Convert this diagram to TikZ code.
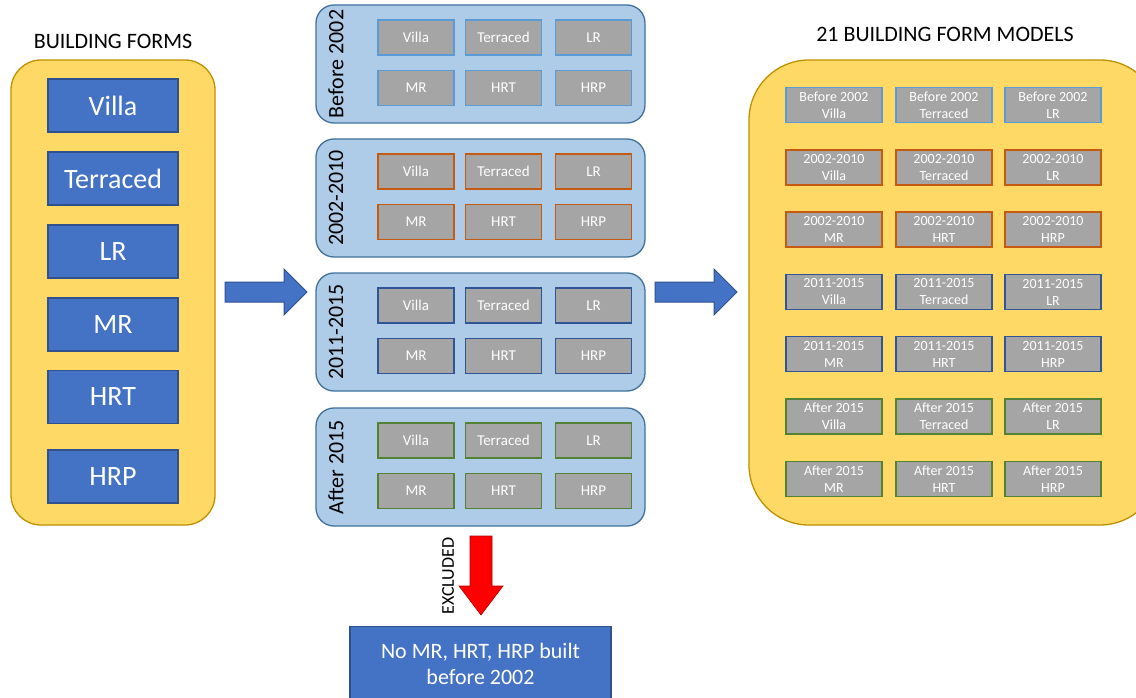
\documentclass[tikz,border=0pt]{standalone}
\usepackage{fontspec}
\setmainfont{Carlito}
\definecolor{blueA}{HTML}{4472C4}
\definecolor{blueD}{HTML}{2F528F}
\definecolor{yelF}{HTML}{FFD966}
\definecolor{yelD}{HTML}{BF9000}
\definecolor{panF}{HTML}{AECBE8}
\definecolor{panD}{HTML}{41719C}
\definecolor{grayF}{HTML}{A5A5A5}
\definecolor{cLB}{HTML}{5B9BD5}
\definecolor{cOR}{HTML}{C55A11}
\definecolor{cDB}{HTML}{2F5597}
\definecolor{cGR}{HTML}{548235}
\tikzset{
  bluebox/.style={draw=blueD, fill=blueA, line width=1.2pt, text=white, inner sep=0, minimum width=130, minimum height=53, font=\fontsize{28}{30}\selectfont},
  yelpanel/.style={draw=yelD, fill=yelF, line width=1.3pt},
  period/.style={draw=panD, fill=panF, line width=1.3pt, rounded corners=18pt},
  gbox/.style={fill=grayF, line width=1.6pt, text=white, inner sep=0, minimum width=76, minimum height=35, font=\fontsize{15}{16}\selectfont},
  rbox/.style={fill=grayF, line width=1.6pt, text=white, inner sep=0, minimum width=96, minimum height=35, align=center, font=\fontsize{14}{17}\selectfont},
  title/.style={font=\fontsize{22}{24}\selectfont, text=black},
  vlabel/.style={font=\fontsize{22}{24}\selectfont, rotate=90, text=black},
}
\begin{document}
\begin{tikzpicture}[x=1pt,y=-1pt]
\useasboundingbox (0,0) rectangle (1136,698);
% left panel
\draw[yelpanel, rounded corners=30pt] (11,60) rectangle (215,525);
\node[title] (lt) at (113,41) {BUILDING FORMS};
\node[bluebox] (lv) at (113,105.5) {Villa};
\node[bluebox] (lte) at (113,178.5) {Terraced};
\node[bluebox] (llr) at (113,251.5) {LR};
\node[bluebox] (lmr) at (113,324.5) {MR};
\node[bluebox] (lhrt) at (113,397) {HRT};
\node[bluebox] (lhrp) at (113,476.5) {HRP};
% arrow 1
\draw[fill=blueA, draw=blueD, line width=1pt] (225,282) -- (284,282) -- (284,269) -- (307,292) -- (284,315) -- (284,302) -- (225,302) -- cycle;
% middle panels
\foreach \i/\top/\lab/\col in {1/5/Before 2002/cLB, 2/139/2002-2010/cOR, 3/273/2011-2015/cDB, 4/408/After 2015/cGR}{
  \draw[period] (316,\top) rectangle (645,\top+118);
  \node[vlabel] (v\i) at (336,\top+59) {\lab};
  \node[gbox, draw=\col] (a\i) at (416,\top+32.5) {Villa};
  \node[gbox, draw=\col] (b\i) at (503.5,\top+32.5) {Terraced};
  \node[gbox, draw=\col] (c\i) at (593.5,\top+32.5) {LR};
  \node[gbox, draw=\col] (d\i) at (416,\top+83) {MR};
  \node[gbox, draw=\col] (e\i) at (503.5,\top+83) {HRT};
  \node[gbox, draw=\col] (f\i) at (593.5,\top+83) {HRP};
}
% arrow 2
\draw[fill=blueA, draw=blueD, line width=1pt] (655,282) -- (714,282) -- (714,269) -- (737,292) -- (714,315) -- (714,302) -- (655,302) -- cycle;
% right panel
\draw[yelpanel, rounded corners=60pt] (749,60) rectangle (1160,525);
\node[title] (rt) at (945,34) {21 BUILDING FORM MODELS};
\foreach \r/\y/\p/\col/\ka/\kb/\kc in {
  1/105/Before 2002/cLB/Villa/Terraced/LR,
  2/167.5/2002-2010/cOR/Villa/Terraced/LR,
  3/229.5/2002-2010/cOR/MR/HRT/HRP,
  4/292/2011-2015/cDB/Villa/Terraced/LR,
  5/354/2011-2015/cDB/MR/HRT/HRP,
  6/416.5/After 2015/cGR/Villa/Terraced/LR,
  7/479/After 2015/cGR/MR/HRT/HRP}{
  \node[rbox, draw=\col] (m\r a) at (834,\y) {\p\\\ka};
  \node[rbox, draw=\col] (m\r b) at (944,\y) {\p\\\kb};
  \node[rbox, draw=\col] (m\r c) at (1053,\y) {\p\\\kc};
}
% red arrow
\draw[fill=red, draw=red!70!black, line width=0.6pt] (470,536) -- (492,536) -- (492,586) -- (503,586) -- (481,615) -- (459,586) -- (470,586) -- cycle;
\node[font=\fontsize{18}{20}\selectfont, rotate=90] (ex) at (448,576) {EXCLUDED};
% bottom box
\node[draw=blueD, fill=blueA, line width=1.2pt, text=white, align=center, inner sep=0, minimum width=261, minimum height=74, font=\fontsize{22}{26}\selectfont, anchor=north] (nb) at (480.5,626) {No MR, HRT, HRP built\\before 2002};
\end{tikzpicture}
\end{document}
